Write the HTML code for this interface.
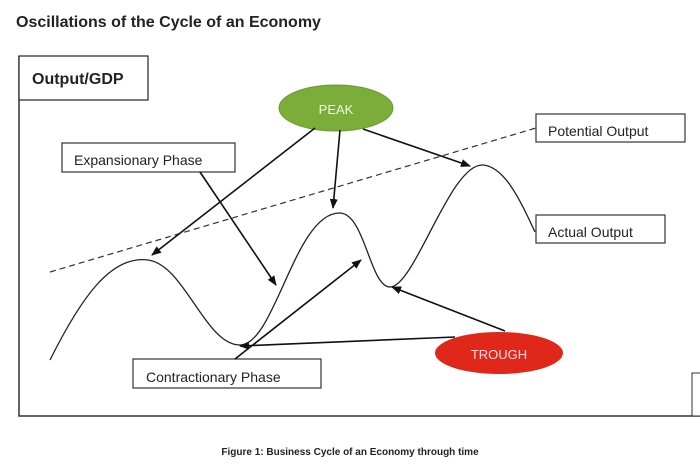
<!DOCTYPE html><html><head><style>body{margin:0;background:#fff}svg{display:block}</style></head><body>
<svg width="700" height="467" viewBox="0 0 700 467" font-family="Liberation Sans, sans-serif">
<defs><marker id="a" markerWidth="10" markerHeight="8" refX="9" refY="4" orient="auto" markerUnits="userSpaceOnUse"><path d="M0,0 L10,4 L0,8z" fill="#111"/></marker></defs>
<text x="16" y="27" font-size="16" font-weight="bold" fill="#222">Oscillations of the Cycle of an Economy</text>
<path d="M19,56 V416 H700" fill="none" stroke="#333" stroke-width="1.5"/>
<rect x="19" y="56" width="129" height="44" fill="#fff" stroke="#333" stroke-width="1.3"/>
<text x="32" y="84" font-size="16" font-weight="bold" fill="#222">Output/GDP</text>
<rect x="692" y="373" width="10" height="43" fill="#fff" stroke="#333"/>
<line x1="50" y1="272" x2="536" y2="128" stroke="#333" stroke-dasharray="6,4" stroke-width="1.2"/>
<path d="M50,360 C80,300 110,255 148,260 C185,265 205,345 240,345 C275,345 295,212 340,213 C365,214 370,287 390,287 C415,287 450,163 483,165 C505,167 520,200 535,232" fill="none" stroke="#222" stroke-width="1.3"/>
<ellipse cx="336" cy="108" rx="57" ry="23" fill="#7aad3a" stroke="#6a9a30"/>
<text x="336" y="114" font-size="13" fill="#f0f8e0" text-anchor="middle">PEAK</text>
<ellipse cx="499" cy="353" rx="64" ry="21" fill="#e0281a"/>
<text x="499" y="359" font-size="13" fill="#fde" text-anchor="middle">TROUGH</text>
<rect x="62" y="143" width="173" height="29" fill="#fff" stroke="#333" stroke-width="1.2"/>
<text x="74" y="165" font-size="14" fill="#222">Expansionary Phase</text>
<rect x="536" y="114" width="149" height="28" fill="#fff" stroke="#333" stroke-width="1.2"/>
<text x="548" y="136" font-size="14" fill="#222">Potential Output</text>
<rect x="536" y="215" width="129" height="28" fill="#fff" stroke="#333" stroke-width="1.2"/>
<text x="548" y="237" font-size="14" fill="#222">Actual Output</text>
<rect x="133" y="359" width="188" height="29" fill="#fff" stroke="#333" stroke-width="1.2"/>
<text x="146" y="382" font-size="14" fill="#222">Contractionary Phase</text>
<g stroke="#111" stroke-width="1.6" marker-end="url(#a)">
<line x1="315" y1="128" x2="152" y2="255"/>
<line x1="340" y1="130" x2="333" y2="208"/>
<line x1="363" y1="129" x2="470" y2="166"/>
<line x1="200" y1="172" x2="276" y2="285"/>
<line x1="235" y1="359" x2="361" y2="260"/>
<line x1="455" y1="337" x2="240" y2="346"/>
<line x1="505" y1="331" x2="392" y2="287"/>
</g>
<text x="350" y="455" font-size="10" font-weight="bold" fill="#222" text-anchor="middle">Figure 1: Business Cycle of an Economy through time</text>
</svg></body></html>
